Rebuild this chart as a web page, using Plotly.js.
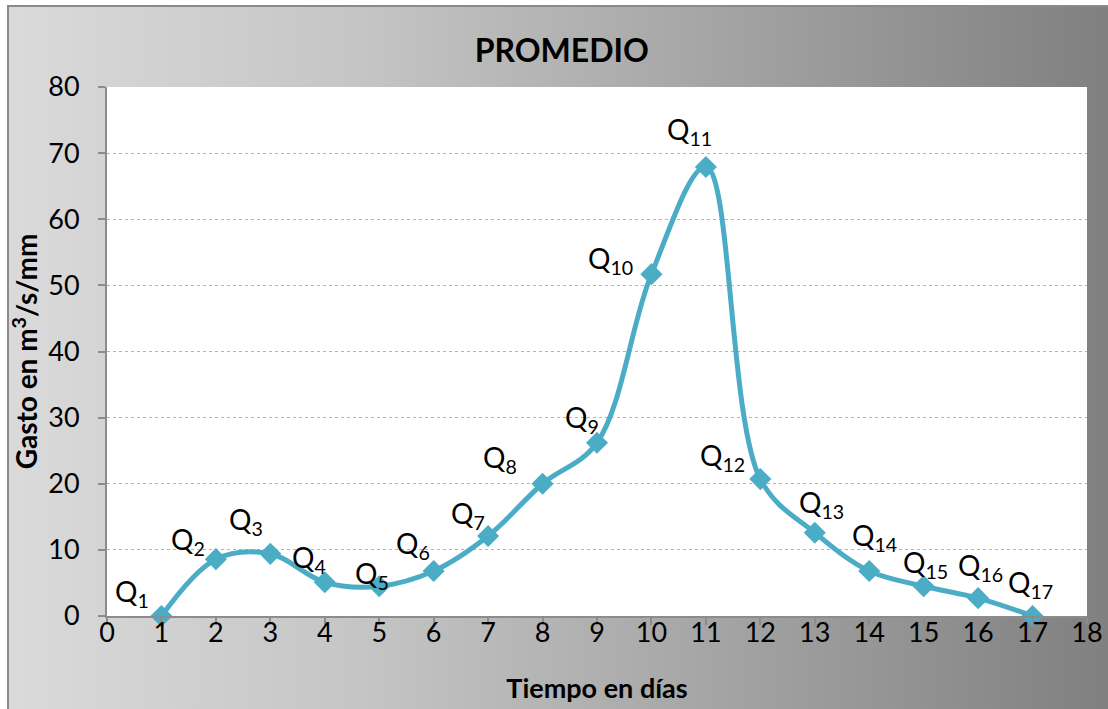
<!DOCTYPE html>
<html>
<head>
<meta charset="utf-8">
<script src="https://cdn.plot.ly/plotly-3.0.1.min.js"></script>
<style>
  html, body { margin: 0; padding: 0; background: #ffffff; width: 1108px; height: 709px; overflow: hidden; }
  #bg { position: absolute; left: 7px; top: 5px; width: 1120px; height: 720px;
        border-left: 2px solid #8a8a8a; border-top: 2px solid #8a8a8a;
        background: linear-gradient(to right, #dadada 0%, #c6c6c6 30%, #adadad 55%, #939393 80%, #7e7e7e 100%); }
  #chart { position: absolute; left: 0; top: 0; width: 1108px; height: 709px; }
</style>
</head>
<body>
<div id="bg"></div>
<div id="chart"></div>
<script>
// Data
const dias = [1, 2, 3, 4, 5, 6, 7, 8, 9, 10, 11, 12, 13, 14, 15, 16, 17];
const gasto = [0, 8.6, 9.4, 5.1, 4.5, 6.8, 12.1, 20.0, 26.2, 51.7, 67.9, 20.7, 12.6, 6.8, 4.5, 2.7, 0];
const etiquetas = ["1","2","3","4","5","6","7","8","9","10","11","12","13","14","15","16","17"];
const xTicks = [0,1,2,3,4,5,6,7,8,9,10,11,12,13,14,15,16,17,18];
const yTicks = [0,10,20,30,40,50,60,70,80];

// label placement offsets (px) relative to each point — styling only
const labelDX = [-29,-28,-24,-16,-7,-21,-20,-43,-15,-41,-16,-38,7,5,2,2,-2];
const labelDY = [23,18,33,23,11,26,21,25,24,14,36,22,29,34,22,31,32];

const FONT = 'Lato, "Open Sans", sans-serif';
const COLOR = '#4bacc6';

const trace = {
  x: dias, y: gasto, type: 'scatter', mode: 'lines+markers',
  line: { color: COLOR, width: 5, shape: 'spline', smoothing: 1 },
  marker: { symbol: 'diamond', size: 17, color: COLOR },
  hoverinfo: 'x+y', showlegend: false, cliponaxis: false
};

const annotations = dias.map((d, i) => ({
  x: d, y: gasto[i], xref: 'x', yref: 'y',
  text: 'Q<sub>' + etiquetas[i] + '</sub>',
  showarrow: false, xanchor: 'center', yanchor: 'middle',
  xshift: labelDX[i], yshift: labelDY[i],
  font: { family: FONT, size: 28, color: '#000000' }
}));

const layout = {
  width: 1108, height: 709,
  paper_bgcolor: 'rgba(0,0,0,0)', plot_bgcolor: '#ffffff',
  margin: { l: 107, r: 21, t: 87, b: 93 },
  font: { family: FONT, color: '#000000' },
  title: { text: '<b>PROMEDIO</b>', font: { family: FONT, size: 32, color: '#000000' },
           x: 0.507, xanchor: 'center', xref: 'container', y: 0.929, yanchor: 'middle', yref: 'container' },
  xaxis: {
    range: [0, 18], tickmode: 'array', tickvals: xTicks, ticktext: xTicks.map(String),
    showgrid: false, zeroline: false,
    showline: true, linecolor: '#8c8c8c', linewidth: 2,
    ticks: 'outside', ticklen: 7, tickwidth: 2, tickcolor: '#8c8c8c',
    tickfont: { family: FONT, size: 27, color: '#000000' },
    ticklabelstandoff: -15,
    title: { text: '<b>Tiempo en días</b>', font: { family: FONT, size: 27, color: '#000000' }, standoff: 32 },
    fixedrange: true
  },
  yaxis: {
    range: [0, 80], tickmode: 'array', tickvals: yTicks, ticktext: yTicks.map(String),
    showgrid: true, gridcolor: '#9ab8e6', griddash: 'dot', gridwidth: 1.2,
    zeroline: false,
    showline: true, linecolor: '#8c8c8c', linewidth: 2,
    ticks: 'outside', ticklen: 7, tickwidth: 2, tickcolor: '#8c8c8c',
    tickfont: { family: FONT, size: 27, color: '#000000' },
    ticklabelstandoff: 13,
    title: { text: '<b>Gasto en m<sup>3</sup>/s/mm</b>', font: { family: FONT, size: 28, color: '#000000' }, standoff: 2 },
    fixedrange: true
  },
  annotations: annotations
};

Plotly.newPlot('chart', [trace], layout, { displayModeBar: false });
</script>
</body>
</html>
